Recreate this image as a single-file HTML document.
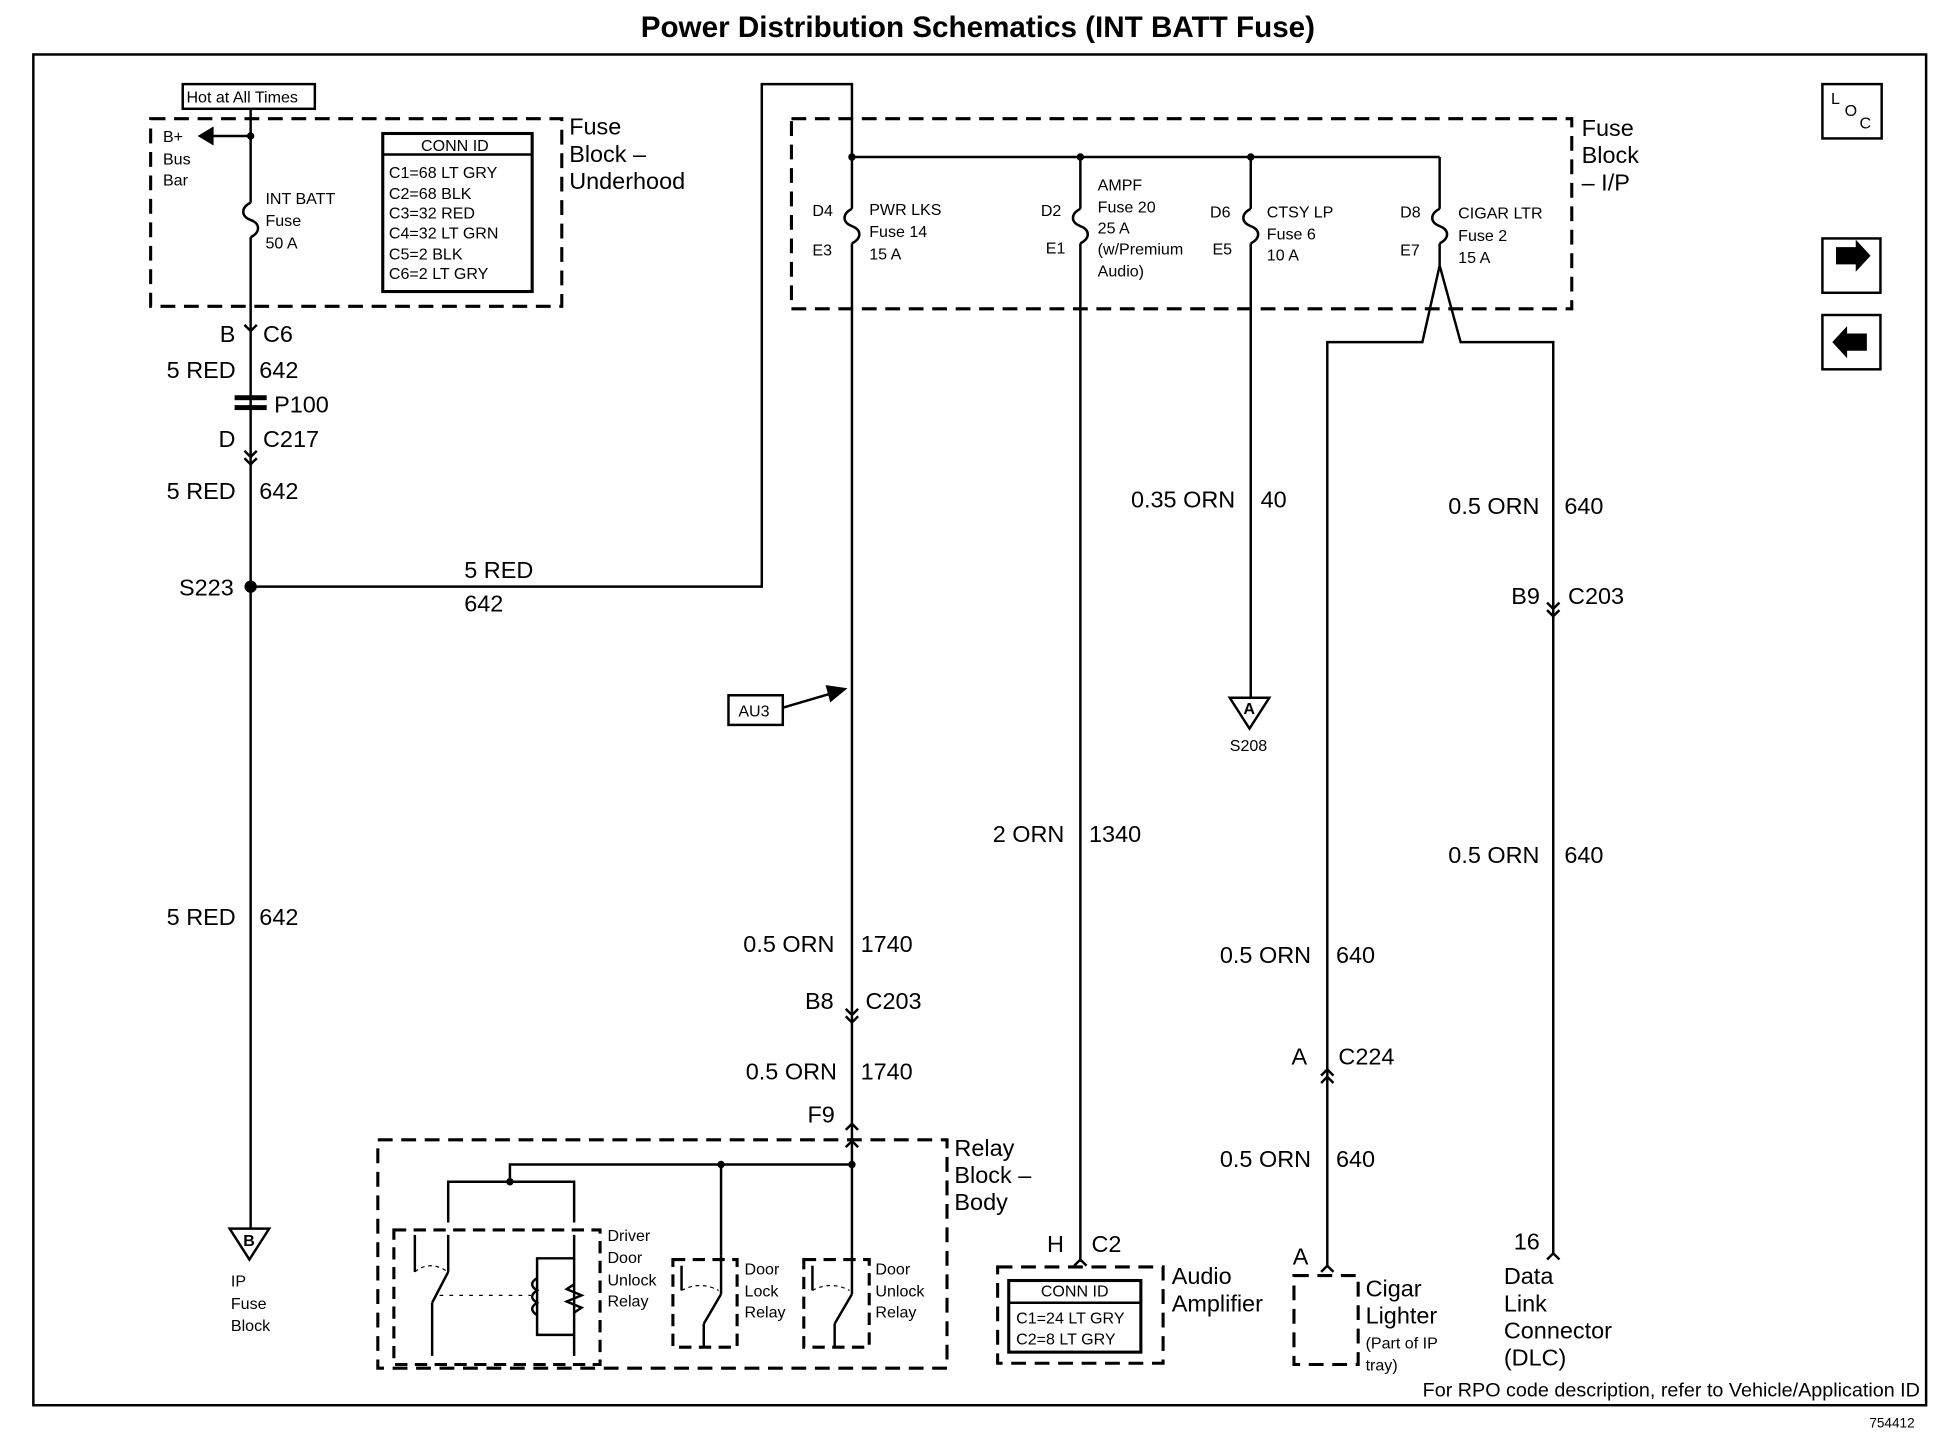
<!DOCTYPE html>
<html><head><style>
html,body{margin:0;padding:0;background:#fff;}
svg{display:block;}
text{font-family:"Liberation Sans",Arial,sans-serif;fill:#000;}
</style></head><body>
<svg width="1936" height="1456" viewBox="0 0 1568 1179" xmlns="http://www.w3.org/2000/svg">
<defs>
<g id="fuse"><rect x="-6" y="-14" width="12" height="28" fill="#fff"/><path d="M0,-14 C-8,-10 -8,-3 0,0 C8,3 8,10 0,14" fill="none" stroke="#000" stroke-width="2"/></g>
<g id="chev"><path d="M-5,-5 L0,0 L5,-5" fill="none" stroke="#000" stroke-width="2"/></g>
<g id="chevu"><path d="M-5,5 L0,0 L5,5" fill="none" stroke="#000" stroke-width="2"/></g>
</defs>
<g stroke="#000" fill="none" stroke-width="2">
<rect x="27" y="44" width="1533" height="1094"/>
<rect x="122" y="96" width="333" height="152" stroke-dasharray="12,7" stroke-width="2.5"/>
<rect x="148" y="68" width="107" height="20"/>
<rect x="310" y="108" width="121" height="128" stroke-width="2.5"/>
<line x1="310" y1="125" x2="431" y2="125"/>
<line x1="203" y1="88" x2="203" y2="995"/>
<line x1="203" y1="110" x2="172" y2="110"/>
<path d="M172,104 L162,110 L172,116Z" fill="#000"/>
<polyline points="203,475 617,475 617,68 690,68 690,910"/>
<rect x="641" y="96" width="632" height="154" stroke-dasharray="12,7" stroke-width="2.5"/>
<line x1="690" y1="127" x2="1166" y2="127"/>
<line x1="875" y1="127" x2="875" y2="1022"/>
<line x1="1013" y1="127" x2="1013" y2="565"/>
<line x1="1166" y1="127" x2="1166" y2="215"/>
<polyline points="1166,215 1152,277 1075,277 1075,1025"/>
<polyline points="1166,215 1183,277 1258,277 1258,1015"/>
<path d="M186,995 L218,995 L202,1020Z"/>
<path d="M996,565 L1028,565 L1012,590Z"/>
<rect x="590" y="563" width="44" height="24"/>
<line x1="634" y1="573" x2="675" y2="561"/>
<path d="M670,556 L684,558 L673,567Z" fill="#000"/>
<rect x="1476" y="68" width="48" height="44"/>
<rect x="1476" y="193" width="47" height="44"/>
<rect x="1476" y="255" width="47" height="44"/>
<rect x="306" y="923" width="461" height="185" stroke-dasharray="12,7" stroke-width="2.5"/>
<line x1="690" y1="910" x2="690" y2="1017"/>
<polyline points="363,990 363,957 413,957 413,943 690,943"/>
<polyline points="413,957 465,957 465,990"/>
<line x1="584" y1="943" x2="584" y2="1017"/>
<rect x="319" y="996" width="167" height="109" stroke-dasharray="10,6" stroke-width="2.5"/>
<rect x="545" y="1020" width="52" height="71" stroke-dasharray="10,6" stroke-width="2.5"/>
<rect x="651" y="1020" width="53" height="71" stroke-dasharray="10,6" stroke-width="2.5"/>
<line x1="336" y1="1000" x2="336" y2="1030"/><line x1="363" y1="1000" x2="363" y2="1030"/>
<line x1="363" y1="1030" x2="350" y2="1055"/><line x1="350" y1="1055" x2="350" y2="1098"/>
<line x1="465" y1="1000" x2="465" y2="1098"/>
<polyline points="465,1019 435,1019 435,1081 465,1081"/>
<path d="M435,1035 q-8,5 0,10 q-8,5 0,10 q-8,5 0,10" />
<path d="M465,1040 l-6,4 l12,5 l-12,5 l12,5 l-6,4"/>
<line x1="356" y1="1049" x2="430" y2="1049" stroke-dasharray="3,5" stroke-width="1"/>
<path d="M336,1030 q12,-10 27,0" stroke-dasharray="3,3" stroke-width="1"/>
<line x1="552" y1="1025" x2="552" y2="1045"/><line x1="584" y1="1017" x2="584" y2="1048"/>
<line x1="584" y1="1048" x2="570" y2="1072"/><line x1="570" y1="1072" x2="570" y2="1090"/>
<path d="M552,1045 q15,-8 30,0" stroke-dasharray="3,3" stroke-width="1"/>
<line x1="658" y1="1025" x2="658" y2="1045"/><line x1="690" y1="1017" x2="690" y2="1048"/>
<line x1="690" y1="1048" x2="676" y2="1072"/><line x1="676" y1="1072" x2="676" y2="1090"/>
<path d="M658,1045 q15,-8 30,0" stroke-dasharray="3,3" stroke-width="1"/>
<rect x="808" y="1026" width="134" height="78" stroke-dasharray="12,7" stroke-width="2.5"/>
<rect x="817" y="1037" width="107" height="58" stroke-width="2.5"/>
<line x1="817" y1="1055" x2="924" y2="1055"/>
<rect x="1048" y="1033" width="52" height="72" stroke-dasharray="12,7" stroke-width="2.5"/>
</g>
<g fill="#000">
<circle cx="203" cy="475" r="5"/><circle cx="203" cy="110" r="3"/>
<circle cx="690" cy="127" r="3"/><circle cx="875" cy="127" r="3"/><circle cx="1013" cy="127" r="3"/>
<circle cx="690" cy="943" r="3"/><circle cx="584" cy="943" r="3"/><circle cx="413" cy="957" r="3"/>
<path d="M1487,200 h16 v-6 l12,13 l-12,13 v-6 h-16z"/>
<path d="M1512,270 h-16 v-6 l-12,13 l12,13 v-6 h16z"/>
<rect x="190" y="320" width="26" height="4"/><rect x="190" y="328" width="26" height="4"/>
</g>
<use href="#fuse" x="203" y="178"/>
<use href="#fuse" x="690" y="183"/><use href="#fuse" x="875" y="183"/><use href="#fuse" x="1013" y="183"/><use href="#fuse" x="1166" y="183"/>
<use href="#chev" x="203" y="268"/><use href="#chev" x="203" y="370"/><use href="#chev" x="203" y="376"/>
<use href="#chev" x="690" y="822"/><use href="#chev" x="690" y="828"/>
<use href="#chevu" x="690" y="910"/><use href="#chevu" x="690" y="924"/>
<use href="#chev" x="1258" y="493"/><use href="#chev" x="1258" y="499"/>
<use href="#chevu" x="1075" y="866"/><use href="#chevu" x="1075" y="872"/>
<use href="#chevu" x="875" y="1020"/><use href="#chevu" x="1075" y="1025"/><use href="#chevu" x="1258" y="1015"/>
<g font-size="24" font-weight="bold"><text x="792" y="30" text-anchor="middle">Power Distribution Schematics (INT BATT Fuse)</text></g>
<g font-size="13">
<text x="151" y="83">Hot at All Times</text>
<text x="132" y="115">B+</text><text x="132" y="133">Bus</text><text x="132" y="150">Bar</text>
<text x="215" y="165">INT BATT</text><text x="215" y="183">Fuse</text><text x="215" y="201">50 A</text>
<text x="341" y="122">CONN ID</text>
<text x="315" y="144">C1=68 LT GRY</text><text x="315" y="161">C2=68 BLK</text><text x="315" y="177">C3=32 RED</text>
<text x="315" y="193">C4=32 LT GRN</text><text x="315" y="210">C5=2 BLK</text><text x="315" y="226">C6=2 LT GRY</text>
<text x="658" y="175">D4</text><text x="658" y="207">E3</text>
<text x="704" y="174">PWR LKS</text><text x="704" y="192">Fuse 14</text><text x="704" y="210">15 A</text>
<text x="843" y="175">D2</text><text x="847" y="205">E1</text>
<text x="889" y="154">AMPF</text><text x="889" y="172">Fuse 20</text><text x="889" y="189">25 A</text><text x="889" y="206">(w/Premium</text><text x="889" y="224">Audio)</text>
<text x="980" y="176">D6</text><text x="982" y="206">E5</text>
<text x="1026" y="176">CTSY LP</text><text x="1026" y="194">Fuse 6</text><text x="1026" y="211">10 A</text>
<text x="1134" y="176">D8</text><text x="1134" y="207">E7</text>
<text x="1181" y="177">CIGAR LTR</text><text x="1181" y="195">Fuse 2</text><text x="1181" y="213">15 A</text>
<text x="598" y="580">AU3</text>
<text x="996" y="608">S208</text>
<text x="187" y="1042">IP</text><text x="187" y="1060">Fuse</text><text x="187" y="1078">Block</text>
<text x="197" y="1009" font-weight="bold">B</text><text x="1007" y="578" font-weight="bold">A</text>
<text x="492" y="1005">Driver</text><text x="492" y="1023">Door</text><text x="492" y="1041">Unlock</text><text x="492" y="1058">Relay</text>
<text x="603" y="1032">Door</text><text x="603" y="1050">Lock</text><text x="603" y="1067">Relay</text>
<text x="709" y="1032">Door</text><text x="709" y="1050">Unlock</text><text x="709" y="1067">Relay</text>
<text x="843" y="1050">CONN ID</text><text x="823" y="1072">C1=24 LT GRY</text><text x="823" y="1089">C2=8 LT GRY</text>
<text x="1106" y="1092">(Part of IP</text><text x="1106" y="1110">tray)</text>
<text x="1514" y="1156" font-size="11">754412</text>
<text x="1483" y="84">L</text><text x="1494" y="94">O</text><text x="1506" y="104">C</text>
</g>
<g font-size="19">
<text x="461" y="109">Fuse</text><text x="461" y="131">Block –</text><text x="461" y="153">Underhood</text>
<text x="1281" y="110">Fuse</text><text x="1281" y="132">Block</text><text x="1281" y="154">– I/P</text>
<text x="178" y="277">B</text><text x="213" y="277">C6</text>
<text x="135" y="306">5 RED</text><text x="210" y="306">642</text>
<text x="222" y="334">P100</text>
<text x="177" y="362">D</text><text x="213" y="362">C217</text>
<text x="135" y="404">5 RED</text><text x="210" y="404">642</text>
<text x="145" y="482">S223</text>
<text x="376" y="468">5 RED</text><text x="376" y="495">642</text>
<text x="135" y="749">5 RED</text><text x="210" y="749">642</text>
<text x="916" y="411">0.35 ORN</text><text x="1021" y="411">40</text>
<text x="1173" y="416">0.5 ORN</text><text x="1267" y="416">640</text>
<text x="1224" y="489">B9</text><text x="1270" y="489">C203</text>
<text x="804" y="682">2 ORN</text><text x="882" y="682">1340</text>
<text x="1173" y="699">0.5 ORN</text><text x="1267" y="699">640</text>
<text x="602" y="771">0.5 ORN</text><text x="697" y="771">1740</text>
<text x="652" y="817">B8</text><text x="701" y="817">C203</text>
<text x="604" y="874">0.5 ORN</text><text x="697" y="874">1740</text>
<text x="654" y="909">F9</text>
<text x="988" y="780">0.5 ORN</text><text x="1082" y="780">640</text>
<text x="1046" y="862">A</text><text x="1084" y="862">C224</text>
<text x="988" y="945">0.5 ORN</text><text x="1082" y="945">640</text>
<text x="773" y="936">Relay</text><text x="773" y="958">Block –</text><text x="773" y="980">Body</text>
<text x="848" y="1014">H</text><text x="884" y="1014">C2</text>
<text x="949" y="1040">Audio</text><text x="949" y="1062">Amplifier</text>
<text x="1047" y="1024">A</text>
<text x="1106" y="1050">Cigar</text><text x="1106" y="1072">Lighter</text>
<text x="1226" y="1012">16</text>
<text x="1218" y="1040">Data</text><text x="1218" y="1062">Link</text><text x="1218" y="1084">Connector</text><text x="1218" y="1106">(DLC)</text>
</g>
<text x="1555" y="1131" font-size="16" text-anchor="end">For RPO code description, refer to Vehicle/Application ID</text>
</svg>
</body></html>
